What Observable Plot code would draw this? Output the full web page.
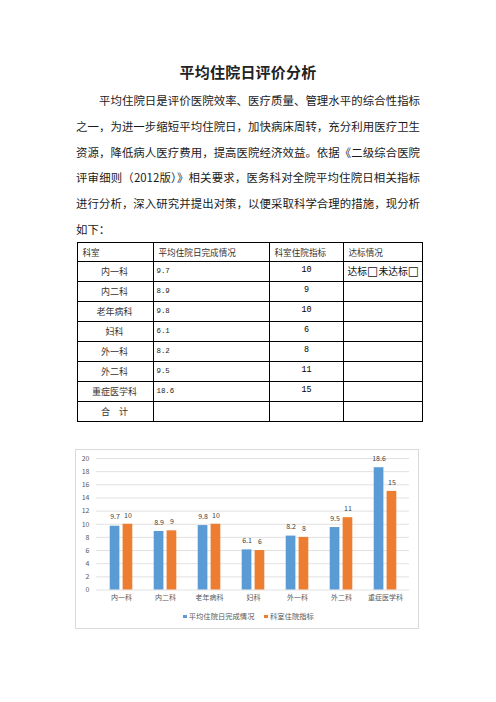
<!DOCTYPE html>
<html>
<head>
<meta charset="utf-8">
<script src="https://cdn.jsdelivr.net/npm/d3@7"></script>
<script src="https://cdn.jsdelivr.net/npm/@observablehq/plot@0.6"></script>
<style>
  html, body { margin: 0; padding: 0; background: #fff; }
  body { width: 496px; height: 702px; position: relative; overflow: hidden;
         font-family: "Noto Sans CJK SC", "Noto Sans", sans-serif; color: #111; }
  #title { position: absolute; left: 0; width: 496px; top: 61px; text-align: center;
           font-size: 15px; font-weight: bold; line-height: 22px; color: #222; letter-spacing: 0.2px; }
  #para { position: absolute; left: 76px; top: 88px; width: 344px; font-size: 11.4px; line-height: 25.8px; color: #1a1a1a; }
  #para div { text-align: justify; text-align-last: justify; white-space: nowrap; }
  #para div.first { padding-left: 23px; }
  #para div.last { text-align-last: left; }
  #tbl { position: absolute; left: 0; top: 0; }
  .cell { position: absolute; box-sizing: border-box; border: 1px solid #000; display: flex; align-items: center;
          font-size: 8.6px; color: #333; line-height: 11px; white-space: nowrap; overflow: hidden; }
  .cell.h { padding-left: 4.5px; }
  .cell.c1 { justify-content: center; font-size: 9px; padding-right: 2px; }
  .cell.c2 { padding-left: 2.5px; font-family: "Liberation Mono", "DejaVu Sans Mono", monospace; font-size: 7.4px; color: #222; }
  .cell.c3 { justify-content: center; padding-bottom: 3px; font-family: "Liberation Mono", "DejaVu Sans Mono", monospace; font-size: 8.4px; color: #000; }
  .cell.c4 { padding-left: 3.5px; font-size: 9.8px; color: #111; }
  .cell.c4 .box { font-family: "DejaVu Sans", sans-serif; font-size: 12px; line-height: 11px; }
  #frame { position: absolute; left: 74.5px; top: 449px; width: 342px; height: 178px; border: 1px solid #d9d9d9; }
  #chart { position: absolute; left: 0; top: 0; }
  #legend { position: absolute; left: 0; width: 346px; top: 161px; text-align: center; font-size: 7.3px; color: #595959; line-height: 10px; }
  #legend span.sw { display: inline-block; width: 3.6px; height: 3.6px; margin-right: 2px; vertical-align: middle; position: relative; top: -0.5px; }
  #legend span.it { margin: 0 5px; }
</style>
</head>
<body>
<div id="title">平均住院日评价分析</div>
<div id="para">
  <div class="first">平均住院日是评价医院效率、医疗质量、管理水平的综合性指标</div>
  <div>之一，为进一步缩短平均住院日，加快病床周转，充分利用医疗卫生</div>
  <div>资源，降低病人医疗费用，提高医院经济效益。依据《二级综合医院</div>
  <div>评审细则（2012版）》相关要求，医务科对全院平均住院日相关指标</div>
  <div>进行分析，深入研究并提出对策，以便采取科学合理的措施，现分析</div>
  <div class="last">如下：</div>
</div>
<div id="tbl"></div>
<div id="frame">
  <div id="chart"></div>
  <div id="legend"></div>
</div>
<script>
const categories = ["内一科", "内二科", "老年病科", "妇科", "外一科", "外二科", "重症医学科"];
const actual = [9.7, 8.9, 9.8, 6.1, 8.2, 9.5, 18.6];
const target = [10, 9, 10, 6, 8, 11, 15];
const actualText = ["9.7", "8.9", "9.8", "6.1", "8.2", "9.5", "18.6"];
const yTicks = [0, 2, 4, 6, 8, 10, 12, 14, 16, 18, 20];
const seriesNames = ["平均住院日完成情况", "科室住院指标"];
const seriesColors = ["#5B9BD5", "#ED7D31"];
const tableHeaders = ["科室", "平均住院日完成情况", "科室住院指标", "达标情况"];
const totalLabel = "合　计";
const statusParts = ["达标", "□", "未达标", "□"];

// table layout (page pixels)
const colEdges = [77, 153, 269, 343, 422];
const rowEdges = [242, 261, 281, 301, 321, 341, 361, 381, 401, 421];
const tbl = document.getElementById("tbl");
function cell(r, c, cls, text) {
  const d = document.createElement("div");
  d.className = "cell " + cls;
  d.style.left = colEdges[c] + "px";
  d.style.top = rowEdges[r] + "px";
  d.style.width = (colEdges[c + 1] - colEdges[c] + 1) + "px";
  d.style.height = (rowEdges[r + 1] - rowEdges[r] + 1) + "px";
  d.textContent = text;
  tbl.appendChild(d);
  return d;
}
tableHeaders.forEach((h, c) => cell(0, c, "h", h));
categories.forEach((cat, i) => {
  cell(i + 1, 0, "c1", cat);
  cell(i + 1, 1, "c2", actualText[i]);
  cell(i + 1, 2, "c3", String(target[i]));
  const d = cell(i + 1, 3, "c4", "");
  if (i === 0) {
    statusParts.forEach(p => {
      const s = document.createElement("span");
      if (p === "□") s.className = "box";
      s.textContent = p;
      d.appendChild(s);
    });
  }
});
const lastRow = categories.length + 1;
cell(lastRow, 0, "c1", totalLabel);
cell(lastRow, 1, "c2", "");
cell(lastRow, 2, "c3", "");
cell(lastRow, 3, "c4", "");

// chart
const rows = categories.map((c, i) => ({c, a: actual[i], t: target[i], at: actualText[i]}));
const chart = Plot.plot({
  width: 342, height: 158,
  marginLeft: 20, marginRight: 9, marginTop: 8, marginBottom: 18.5,
  style: {fontFamily: "'Noto Sans CJK SC', sans-serif", fontSize: "7px", color: "#595959", background: "transparent", overflow: "visible"},
  x: {domain: categories, padding: 0, label: null, tickSize: 0, tickPadding: 5.5},
  y: {domain: [0, 20], ticks: yTicks, label: null, tickSize: 0, tickPadding: 7},
  marks: [
    Plot.ruleY(yTicks, {stroke: "#d9d9d9", strokeWidth: 0.8}),
    Plot.barY(rows, {x: "c", y: "a", fill: seriesColors[0], insetLeft: 10.7, insetRight: 23.6}),
    Plot.barY(rows, {x: "c", y: "t", fill: seriesColors[1], insetLeft: 23.6, insetRight: 10.7}),
    Plot.text(rows, {x: "c", y: "a", text: "at", dx: -6.5, dy: -9, fill: "#404040", fontSize: 7}),
    Plot.text(rows, {x: "c", y: "t", text: d => String(d.t), dx: 6.5, dy: -9, fill: "#404040", fontSize: 7})
  ]
});
document.getElementById("chart").appendChild(chart);

const lg = document.getElementById("legend");
seriesNames.forEach((n, i) => {
  const it = document.createElement("span"); it.className = "it";
  const sw = document.createElement("span"); sw.className = "sw"; sw.style.background = seriesColors[i];
  it.appendChild(sw); it.appendChild(document.createTextNode(n));
  lg.appendChild(it);
});
</script>
</body>
</html>
